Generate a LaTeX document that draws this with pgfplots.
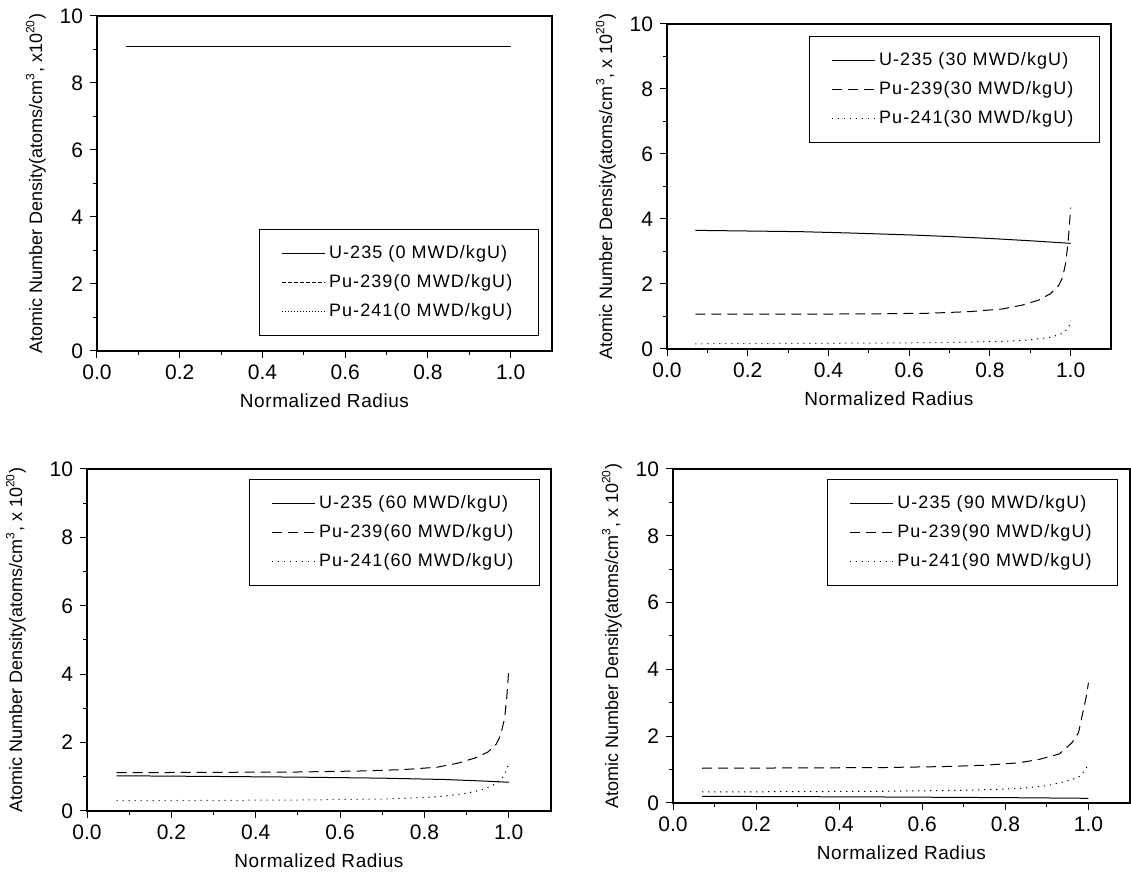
\documentclass[border=0pt]{standalone}
\usepackage{fontspec}
\setmainfont{Liberation Sans}
\newfontfamily\legfont[LetterSpace=6]{Liberation Sans}
\newfontfamily\labfont[LetterSpace=3]{Liberation Sans}
\usepackage{pgfplots}
\pgfplotsset{compat=1.18}

\pgfplotsset{
  burnup/.style={
    scale only axis,
    xmin=0, xmax=1.1, ymin=0, ymax=10,
    xtick={0,0.2,0.4,0.6,0.8,1.0}, ytick={0,2,4,6,8,10},
    minor x tick num=1, minor y tick num=1,
    tick pos=left, tick align=outside,
    major tick length=3.5pt, minor tick length=2pt,
    every tick/.style={black, line width=0.5pt},
    axis line style={line width=0.6pt},
    x tick label style={/pgf/number format/fixed, /pgf/number format/fixed zerofill, /pgf/number format/precision=1},
    /pgf/number format/assume math mode=true,
    tick label style={font=\fontsize{10.5}{12}\selectfont},
    ylabel style={font=\fontsize{9}{11}\selectfont},
    xlabel style={font=\labfont\fontsize{9.5}{11}\selectfont},
    xlabel={Normalized Radius},
    legend cell align=left,
    legend style={draw=black, line width=0.5pt, fill=white,
      font=\legfont\fontsize{9}{10.5}\selectfont, inner xsep=11pt, inner ysep=6pt, row sep=2.5pt,
      /tikz/every even column/.append style={column sep=2.5pt}},
    legend image code/.code={\draw[##1] (0cm,0cm) -- (0.75cm,0cm);},
  },
  u235/.style={black, line width=0.5pt},
  pu239/.style={black, line width=0.5pt, dash pattern=on 5pt off 3pt},
  pu241/.style={black, line width=0.5pt, dash pattern=on 0.6pt off 2.4pt},
}

\begin{document}
\begin{tikzpicture}
\path[use as bounding box] (0,0) rectangle (565.5pt,440.5pt);

% Fresh fuel, 0 MWD/kgU
\begin{axis}[burnup, at={(48.5pt,265pt)}, anchor=south west,
  width=227.5pt, height=167.5pt,
  ylabel={Atomic Number Density(atoms/cm\textsuperscript{3}, x10\textsuperscript{20})},
  legend style={at={(0.971,0.045)}, anchor=south east}]
\addplot[u235] coordinates {(0.07,9.1) (1.0,9.1)};
\addplot[black, line width=0.5pt, dash pattern=on 2pt off 1pt] coordinates {(0.07,0) (1.0,0)};
\addplot[black, line width=0.5pt, dash pattern=on 0.5pt off 1pt] coordinates {(0.07,0) (1.0,0)};
\legend{U-235 (0 MWD/kgU), Pu-239(0 MWD/kgU), Pu-241(0 MWD/kgU)}
\end{axis}

% 30 MWD/kgU
\begin{axis}[burnup, at={(333.5pt,266pt)}, anchor=south west,
  width=222pt, height=162.5pt,
  ylabel={Atomic Number Density(atoms/cm\textsuperscript{3}, x 10\textsuperscript{20})},
  legend style={at={(0.975,0.963)}, anchor=north east}]
\addplot[u235] coordinates {(0.07,3.65) (0.2,3.63) (0.33,3.61) (0.45,3.57) (0.6,3.51) (0.7,3.46) (0.8,3.40) (0.9,3.33) (0.95,3.29) (1.0,3.25)};
\addplot[pu239] coordinates {(0.07,1.07) (0.3,1.07) (0.5,1.08) (0.65,1.1) (0.75,1.15) (0.83,1.23) (0.88,1.35) (0.92,1.5) (0.95,1.7) (0.97,1.95) (0.98,2.2) (0.987,2.6) (0.993,3.2) (0.997,3.8) (1.0,4.35)};
\addplot[pu241] coordinates {(0.07,0.16) (0.3,0.17) (0.5,0.18) (0.7,0.2) (0.83,0.23) (0.9,0.28) (0.95,0.36) (0.98,0.48) (0.995,0.65) (1.0,0.88)};
\legend{U-235 (30 MWD/kgU), Pu-239(30 MWD/kgU), Pu-241(30 MWD/kgU)}
\end{axis}

% 60 MWD/kgU
\begin{axis}[burnup, at={(43.5pt,35pt)}, anchor=south west,
  width=232pt, height=171pt, ylabel shift=5pt,
  ylabel={Atomic Number Density(atoms/cm\textsuperscript{3}, x 10\textsuperscript{20})},
  legend style={at={(0.976,0.971)}, anchor=north east}]
\addplot[u235] coordinates {(0.07,1.03) (0.3,1.01) (0.5,0.99) (0.7,0.96) (0.85,0.92) (0.95,0.87) (1.0,0.84)};
\addplot[pu239] coordinates {(0.07,1.12) (0.3,1.13) (0.5,1.14) (0.65,1.17) (0.75,1.21) (0.83,1.28) (0.88,1.4) (0.92,1.55) (0.95,1.72) (0.97,1.95) (0.98,2.2) (0.99,2.7) (0.995,3.3) (1.0,4.15)};
\addplot[pu241] coordinates {(0.07,0.3) (0.3,0.31) (0.5,0.32) (0.7,0.35) (0.8,0.39) (0.85,0.44) (0.9,0.52) (0.94,0.63) (0.97,0.8) (0.985,0.98) (0.995,1.2) (1.0,1.42)};
\legend{U-235 (60 MWD/kgU), Pu-239(60 MWD/kgU), Pu-241(60 MWD/kgU)}
\end{axis}

% 90 MWD/kgU
\begin{axis}[burnup, at={(336.5pt,39pt)}, anchor=south west,
  width=228.5pt, height=167pt,
  ylabel={Atomic Number Density(atoms/cm\textsuperscript{3}, x 10\textsuperscript{20})},
  legend style={at={(0.974,0.97)}, anchor=north east}]
\addplot[u235] coordinates {(0.07,0.2) (0.5,0.18) (0.8,0.16) (1.0,0.14)};
\addplot[pu239] coordinates {(0.07,1.04) (0.3,1.05) (0.5,1.06) (0.65,1.09) (0.75,1.13) (0.83,1.2) (0.88,1.3) (0.93,1.47) (0.96,1.8) (0.976,2.1) (0.988,2.8) (0.995,3.2) (1.0,3.6)};
\addplot[pu241] coordinates {(0.07,0.33) (0.3,0.34) (0.5,0.35) (0.7,0.38) (0.83,0.43) (0.9,0.52) (0.93,0.6) (0.96,0.7) (0.98,0.8) (0.993,1.0) (1.0,1.2)};
\legend{U-235 (90 MWD/kgU), Pu-239(90 MWD/kgU), Pu-241(90 MWD/kgU)}
\end{axis}
\end{tikzpicture}
\end{document}
